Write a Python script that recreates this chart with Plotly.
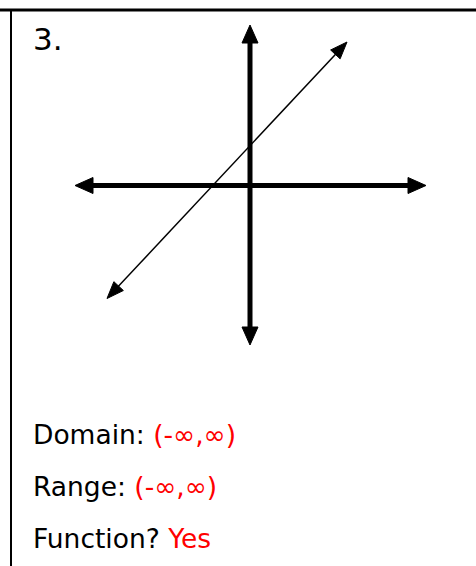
import numpy as np
import plotly.graph_objects as go

# ---- data (graph units; 1 unit = 25 px on screen) ----
axis_x_ends = [-7.0, 7.04]        # horizontal axis arrow tips
axis_y_ends = [-6.38, 6.42]       # vertical axis arrow tips
line_x = [-5.72, 3.88]            # diagonal line arrow tips (x)
line_y = [-4.52, 5.74]            # diagonal line arrow tips (y)

problem_label = "3."
labels = ["Domain: ", "Range: ", "Function? "]
answers = ["(-∞,∞)", "(-∞,∞)", "Yes"]

# ---- layout constants ----
W, H = 476, 566
UNIT = 25.0
OX, OY = 250.0, 185.5   # pixel position of origin
xr = [-OX / UNIT, (W - OX) / UNIT]
yr = [(OY - H) / UNIT, OY / UNIT]

def px_to_u_x(px):
    return (px - OX) / UNIT

def px_to_u_y(py):
    return (OY - py) / UNIT

fig = go.Figure()

def arrow_head(tip, base_from, length, half_w):
    tip = np.array(tip, float)
    d = tip - np.array(base_from, float)
    d /= np.linalg.norm(d)
    n = np.array([-d[1], d[0]])
    L = length / UNIT
    hw = half_w / UNIT
    b = tip - d * L
    p1 = b + n * hw
    p2 = b - n * hw
    return [tip[0], p1[0], p2[0], tip[0]], [tip[1], p1[1], p2[1], tip[1]]

def add_arrow_line(x0, y0, x1, y1, width, head_len, head_hw):
    p0 = np.array([x0, y0]); p1 = np.array([x1, y1])
    d = (p1 - p0) / np.linalg.norm(p1 - p0)
    s0 = p0 + d * head_len * 0.8 / UNIT
    s1 = p1 - d * head_len * 0.8 / UNIT
    fig.add_trace(go.Scatter(x=[s0[0], s1[0]], y=[s0[1], s1[1]], mode="lines",
                             line=dict(color="black", width=width),
                             hoverinfo="skip", showlegend=False))
    for tip, frm in ((p1, p0), (p0, p1)):
        hx, hy = arrow_head(tip, frm, head_len, head_hw)
        fig.add_trace(go.Scatter(x=hx, y=hy, mode="lines", fill="toself",
                                 fillcolor="black", line=dict(color="black", width=1),
                                 hoverinfo="skip", showlegend=False))

# axes
add_arrow_line(axis_x_ends[0], 0, axis_x_ends[1], 0, 5, 18, 8)
add_arrow_line(0, axis_y_ends[0], 0, axis_y_ends[1], 5, 18, 8)
# diagonal line
add_arrow_line(line_x[0], line_y[0], line_x[1], line_y[1], 1.5, 17, 6.5)

font_family = "DejaVu Sans"

# problem number
fig.add_annotation(x=px_to_u_x(31), y=px_to_u_y(38.5), text=problem_label,
                   showarrow=False, xanchor="left", yanchor="middle",
                   font=dict(family=font_family, size=31, color="black"))

ys = [434, 486.5, 538]
for lab, ans, ypix in zip(labels, answers, ys):
    fig.add_annotation(x=px_to_u_x(31), y=px_to_u_y(ypix),
                       text=lab + "<span style='color:#ff0000'>" + ans + "</span>",
                       showarrow=False, xanchor="left", yanchor="middle",
                       font=dict(family=font_family, size=26.5, color="black"))

# table borders
fig.add_shape(type="line", xref="paper", yref="paper", x0=0, x1=1,
              y0=1 - 10 / H, y1=1 - 10 / H, line=dict(color="black", width=3))
fig.add_shape(type="line", xref="paper", yref="paper", x0=11 / W, x1=11 / W,
              y0=0, y1=1 - 10 / H, line=dict(color="black", width=2))

fig.update_layout(
    width=W, height=H, margin=dict(l=0, r=0, t=0, b=0),
    paper_bgcolor="white", plot_bgcolor="white",
    xaxis=dict(range=xr, visible=False, fixedrange=True),
    yaxis=dict(range=yr, visible=False, fixedrange=True),
    showlegend=False,
)

fig.write_html("out.html", config={"displayModeBar": False},
               post_script="document.body.style.margin='0';document.body.style.overflow='hidden';")
